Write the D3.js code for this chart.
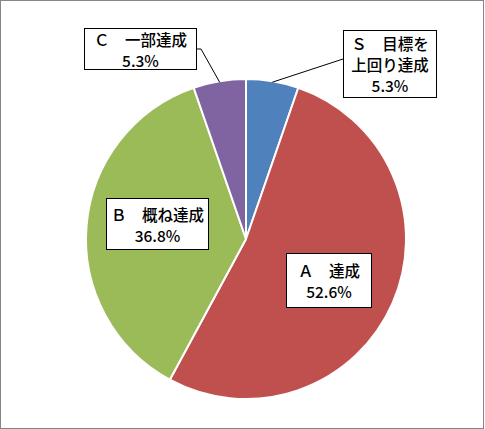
<!DOCTYPE html>
<html><head><meta charset="utf-8">
<script src="https://cdn.jsdelivr.net/npm/d3@7/dist/d3.min.js"></script>
<style>
html,body{margin:0;padding:0;background:#fff;}
svg{display:block;}
</style></head>
<body>
<svg id="chart" width="485" height="429"></svg>
<script>
const categories = ["Ｓ　目標を上回り達成", "Ａ　達成", "Ｂ　概ね達成", "Ｃ　一部達成"];
const labelLines = [["Ｓ　目標を", "上回り達成"], ["Ａ　達成"], ["Ｂ　概ね達成"], ["Ｃ　一部達成"]];
const values = [5.3, 52.6, 36.8, 5.3];
const colors = ["#4F81BD", "#C0504D", "#9BBB59", "#8064A2"];

const W = 485, H = 429;
const cx = 246, cy = 239, R = 160;
const svg = d3.select("#chart");

svg.append("rect").attr("x", 0.5).attr("y", 0.5).attr("width", 483).attr("height", 428)
  .attr("fill", "#fff").attr("stroke", "#868686").attr("stroke-width", 1);

const data = categories.map((c, i) => ({ cat: c, lines: labelLines[i], value: values[i], color: colors[i] }));
const pie = d3.pie().value(d => d.value).sort(null);
const arcs = pie(data);
const arc = d3.arc().innerRadius(0).outerRadius(R);

const g = svg.append("g").attr("transform", `translate(${cx},${cy})`);
g.selectAll("path").data(arcs).enter().append("path")
  .attr("d", arc).attr("fill", d => d.data.color)
  .attr("stroke", "#fff").attr("stroke-width", 2).attr("stroke-linejoin", "round");

const boxes = [
  { x: 343, y: 30, w: 93, h: 67 },
  { x: 286, y: 253, w: 85, h: 54 },
  { x: 106, y: 198, w: 102, h: 51 },
  { x: 84, y: 28, w: 112, h: 41 }
];

const outerPt = (a, r) => [cx + r * Math.sin(a), cy - r * Math.cos(a)];
const leaders = [
  { i: 0, box: [343, 59] },
  { i: 3, box: [196, 49] }
];
leaders.forEach(l => {
  const a = arcs[l.i];
  const mid = (a.startAngle + a.endAngle) / 2;
  const p = outerPt(mid, R - 1);
  const pts = l.i === 0 ? [l.box, p] : [l.box, [l.box[0] + 5, l.box[1]], p];
  svg.append("path").attr("d", d3.line()(pts)).attr("fill", "none")
    .attr("stroke", "#000").attr("stroke-width", 1);
});

const fs = 15.5, lh = 21;
arcs.forEach((a, i) => {
  const b = boxes[i];
  svg.append("rect").attr("x", b.x + 0.5).attr("y", b.y + 0.5).attr("width", b.w).attr("height", b.h)
    .attr("fill", "#fff").attr("stroke", "#000").attr("stroke-width", 1);
  const lines = a.data.lines.concat([d3.format(".1f")(a.data.value) + "%"]);
  const n = lines.length;
  const ccx = b.x + b.w / 2 + 0.5, ccy = b.y + b.h / 2 + 0.5;
  lines.forEach((t, k) => {
    svg.append("text").attr("x", ccx).attr("y", ccy + (k - (n - 1) / 2) * lh)
      .attr("text-anchor", "middle").attr("dominant-baseline", "central")
      .attr("font-family", "'Noto Sans CJK JP', sans-serif").attr("font-size", fs)
      .attr("font-weight", 500).attr("fill", "#000").text(t);
  });
});
</script>
</body></html>
